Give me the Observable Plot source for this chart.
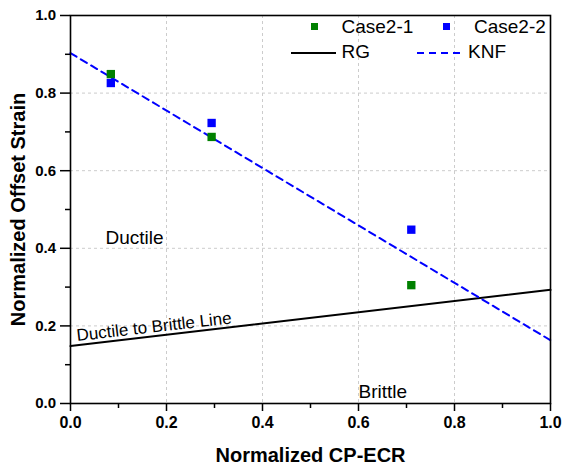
<!DOCTYPE html>
<html>
<head>
<meta charset="utf-8">
<script src="https://cdn.jsdelivr.net/npm/d3@7"></script>
<script src="https://cdn.jsdelivr.net/npm/@observablehq/plot@0.6"></script>
<style>
  html, body { margin: 0; padding: 0; background: white; }
  #wrap { position: relative; width: 562px; height: 469px; font-family: "Liberation Sans", Arial, sans-serif; }
  #wrap svg.plot { display: block; }
  .leg { position: absolute; font-size: 19px; line-height: 1; color: #000; white-space: nowrap; }
  .leg svg.sw { position: absolute; overflow: visible; }
  g[aria-label="x-axis tick label"], g[aria-label="x-axis tick label"] text { font-weight: bold; font-size: 16px !important; }
  g[aria-label="y-axis tick label"], g[aria-label="y-axis tick label"] text { font-weight: bold; font-size: 15px !important; }
</style>
</head>
<body>
<div id="wrap"></div>
<script>
// ---- data ----
const caseX = [0.084, 0.294, 0.710];
const case21Y = [0.849, 0.687, 0.305];
const case22Y = [0.826, 0.723, 0.448];
const rgX = [0, 1];
const rgY = [0.148, 0.293];
const knfX = [0, 1];
const knfY = [0.903, 0.163];
const majorTicks = [0, 0.2, 0.4, 0.6, 0.8, 1.0];
const minorTicks = [0.1, 0.3, 0.5, 0.7, 0.9];
const gridTicks = [0.2, 0.4, 0.6, 0.8];
const xTitle = "Normalized CP-ECR";
const yTitle = "Normalized Offset Strain";
const seriesNames = ["Case2-1", "Case2-2", "RG", "KNF"];
const regionLabels = [
  {text: "Ductile", x: 0.073, y: 0.411},
  {text: "Brittle", x: 0.600, y: 0.015}
];
const lineLabel = [{text: "Ductile to Brittle Line", x: 0.014, y: 0.161}];

const green = "#008000";
const blue = "#0000ff";

const pts21 = caseX.map((x, i) => ({x, y: case21Y[i]}));
const pts22 = caseX.map((x, i) => ({x, y: case22Y[i]}));
const rg = rgX.map((x, i) => ({x, y: rgY[i]}));
const knf = knfX.map((x, i) => ({x, y: knfY[i]}));
const fmt = d3.format(".1f");

const chart = Plot.plot({
  width: 562,
  height: 469,
  marginLeft: 70,
  marginRight: 12,
  marginTop: 15,
  marginBottom: 66,
  style: {fontFamily: "'Liberation Sans', Arial, sans-serif", color: "#000", background: "white", overflow: "visible"},
  x: {domain: [0, 1]},
  y: {domain: [0, 1]},
  marks: [
    Plot.gridX(gridTicks, {stroke: "#cccccc", strokeOpacity: 1, strokeDasharray: "3,3", strokeWidth: 1}),
    Plot.gridY(gridTicks, {stroke: "#cccccc", strokeOpacity: 1, strokeDasharray: "3,3", strokeWidth: 1}),
    Plot.axisX({ticks: majorTicks, tickSize: 8, tickPadding: 5, tickFormat: fmt, fontSize: 16, fontWeight: "bold", strokeWidth: 1.5, label: null}),
    Plot.axisX({ticks: minorTicks, tickSize: 5, tickFormat: () => "", strokeWidth: 1.5, label: null}),
    Plot.axisY({ticks: majorTicks, tickSize: 10, tickPadding: 4.5, tickFormat: fmt, fontSize: 15, fontWeight: "bold", strokeWidth: 1.5, label: null}),
    Plot.axisY({ticks: minorTicks, tickSize: 5, tickFormat: () => "", strokeWidth: 1.5, label: null}),
    Plot.line(rg, {x: "x", y: "y", stroke: "#000", strokeWidth: 2}),
    Plot.line(knf, {x: "x", y: "y", stroke: blue, strokeWidth: 2, strokeDasharray: "7,5"}),
    Plot.dot(pts21, {x: "x", y: "y", symbol: "square", r: 4.7, fill: green, stroke: null}),
    Plot.dot(pts22, {x: "x", y: "y", symbol: "square", r: 4.7, fill: blue, stroke: null}),
    Plot.text(regionLabels, {x: "x", y: "y", text: "text", textAnchor: "start", lineAnchor: "bottom", fontSize: 19, fill: "#000"}),
    Plot.text(lineLabel, {x: "x", y: "y", text: "text", textAnchor: "start", lineAnchor: "bottom", rotate: -6.5, fontSize: 17, fill: "#000"}),
    Plot.text([xTitle], {frameAnchor: "bottom", dy: 52, text: d => d, fontSize: 20, fontWeight: "bold", textAnchor: "middle", lineAnchor: "middle", fill: "#000"}),
    Plot.text([yTitle], {frameAnchor: "left", dx: -52, rotate: -90, text: d => d, fontSize: 20, fontWeight: "bold", textAnchor: "middle", lineAnchor: "middle", fill: "#000"}),
    Plot.frame({stroke: "#000", strokeWidth: 1.6})
  ]
});
chart.classList.add("plot");
const wrap = document.getElementById("wrap");
wrap.appendChild(chart);

// ---- legend (HTML overlay inside the plot frame) ----
function legItem(left, top, swatch, label) {
  const d = document.createElement("div");
  d.className = "leg";
  d.style.left = left + "px";
  d.style.top = top + "px";
  d.innerHTML = swatch + `<span>${label}</span>`;
  wrap.appendChild(d);
}
const sq = c => `<svg class="sw" width="8" height="8" style="left:-31px;top:6px"><rect x="0" y="0" width="7" height="7" fill="${c}"/></svg>`;
const ln = (c, dash) => `<svg class="sw" width="46" height="4" style="left:-51px;top:8.5px"><line x1="0" y1="2" x2="45" y2="2" stroke="${c}" stroke-width="2" ${dash ? `stroke-dasharray="${dash}"` : ""}/></svg>`;
legItem(341.5, 17, sq(green), seriesNames[0]);
legItem(474, 17, sq(blue), seriesNames[1]);
legItem(341.5, 42, ln("#000", null), seriesNames[2]);
legItem(468, 42, ln(blue, "7,5"), seriesNames[3]);
</script>
</body>
</html>
